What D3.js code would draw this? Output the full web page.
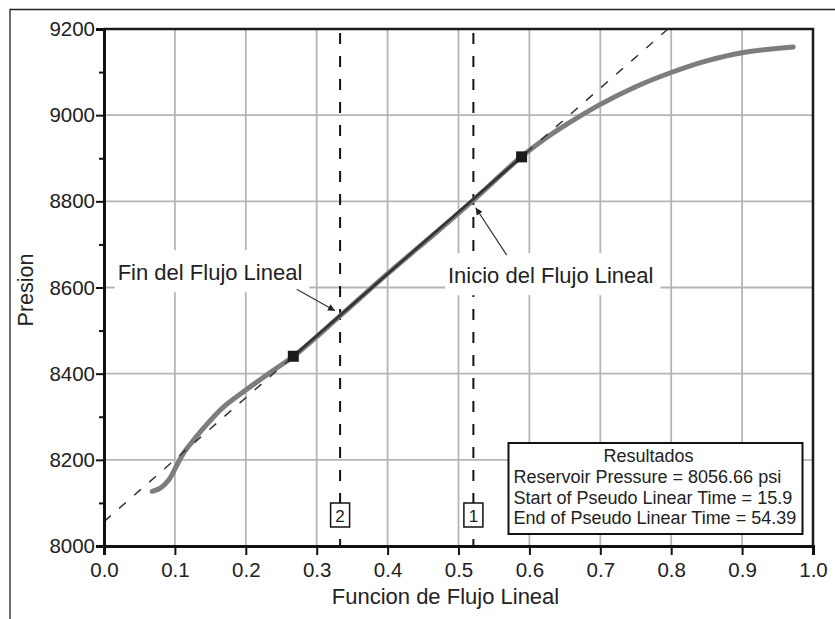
<!DOCTYPE html>
<html>
<head>
<meta charset="utf-8">
<script src="https://cdn.jsdelivr.net/npm/d3@7"></script>
<style>
  body { margin: 0; background: #fff; }
  svg { display: block; font-family: "Liberation Sans", Arial, sans-serif; }
</style>
</head>
<body>
<svg width="835" height="619"></svg>
<script>
// data
const curveX = [0.068, 0.080, 0.092, 0.102, 0.112, 0.125, 0.140, 0.168, 0.200, 0.239, 0.267, 0.333, 0.400, 0.470, 0.521, 0.589, 0.620, 0.653, 0.700, 0.750, 0.800, 0.850, 0.900, 0.972];
const curveP = [8127, 8135, 8155, 8185, 8215, 8243, 8273, 8322, 8362, 8408, 8440, 8534, 8632, 8730, 8803, 8904, 8943, 8979, 9025, 9066, 9099, 9126, 9145, 9158];
const fitIntercept = 8056.66;
const fitSlope = 1437.3;
const markerX = [0.267, 0.589];
const lineX = [0.521, 0.333];
const lineLabels = ["1", "2"];
const xTicks = [0, 0.1, 0.2, 0.3, 0.4, 0.5, 0.6, 0.7, 0.8, 0.9, 1.0];
const yTicks = [8000, 8200, 8400, 8600, 8800, 9000, 9200];
const resultLines = ["Reservoir Pressure = 8056.66 psi", "Start of Pseudo Linear Time = 15.9", "End of Pseudo Linear Time = 54.39"];
const notes = [
  {text: "Fin del Flujo Lineal", x: 0.0193, p: 8617, from: [0.2718, 8596], to: [0.3258, 8546]},
  {text: "Inicio del Flujo Lineal", x: 0.4852, p: 8610, from: [0.568, 8675], to: [0.5243, 8785]}
];

// set the dimensions and margins of the graph
const margin = {top: 29, right: 22, bottom: 73, left: 104},
  width = 835 - margin.left - margin.right,
  height = 619 - margin.top - margin.bottom;

const root = d3.select("svg");

// outer frame (cropped page)
root.append("path")
  .attr("d", "M10,619 V9.5 H835")
  .attr("fill", "none").attr("stroke", "#222").attr("stroke-width", 1.3);

const svg = root.append("g")
  .attr("transform", `translate(${margin.left}, ${margin.top})`);

const x = d3.scaleLinear().domain([0, 1]).range([0, width]);
const y = d3.scaleLinear().domain([8000, 9200]).range([height, 0]);

// grid
svg.append("g").selectAll("line").data(xTicks.slice(1, -1)).join("line")
  .attr("x1", d => x(d)).attr("x2", d => x(d))
  .attr("y1", 0).attr("y2", height)
  .attr("stroke", "#b5b5b5").attr("stroke-width", 1.8);
svg.append("g").selectAll("line").data(yTicks.slice(1, -1)).join("line")
  .attr("y1", d => y(d)).attr("y2", d => y(d))
  .attr("x1", 0).attr("x2", width)
  .attr("stroke", "#b5b5b5").attr("stroke-width", 1.8);

// vertical dashed lines
svg.append("g").selectAll("line").data(lineX).join("line")
  .attr("x1", d => x(d)).attr("x2", d => x(d))
  .attr("y1", 4).attr("y2", height)
  .attr("stroke", "#111").attr("stroke-width", 2)
  .attr("stroke-dasharray", "11,12");

// annotation text with white background
const noteG = svg.append("g");
notes.forEach(n => {
  const g = noteG.append("g");
  const t = g.append("text")
    .attr("x", x(n.x)).attr("y", y(n.p))
    .attr("font-size", 22).attr("fill", "#222")
    .text(n.text);
  const bb = t.node().getBBox();
  g.insert("rect", "text")
    .attr("x", bb.x - 3).attr("y", y(n.p) - 30)
    .attr("width", bb.width + 10).attr("height", 42)
    .attr("fill", "#fff");
});

// data curve
const line = d3.line().x(d => x(d[0])).y(d => y(d[1])).curve(d3.curveCatmullRom.alpha(0.5));
const pts = curveX.map((v, i) => [v, curveP[i]]);
svg.append("path")
  .datum(pts)
  .attr("d", line)
  .attr("fill", "none").attr("stroke", "#7d7d7d")
  .attr("stroke-width", 5).attr("stroke-linecap", "round");

// fit line: solid between markers, dashed over full range
const fit = v => fitIntercept + fitSlope * v;
svg.append("line")
  .attr("x1", x(markerX[0])).attr("y1", y(fit(markerX[0])))
  .attr("x2", x(markerX[1])).attr("y2", y(fit(markerX[1])))
  .attr("stroke", "#333").attr("stroke-width", 2.5);
const vTop = (9200 - fitIntercept) / fitSlope;
svg.append("line")
  .attr("x1", x(0)).attr("y1", y(fit(0)))
  .attr("x2", x(vTop)).attr("y2", y(9200))
  .attr("stroke", "#333").attr("stroke-width", 1.5)
  .attr("stroke-dasharray", "9,11");

// markers
svg.selectAll("rect.marker").data(markerX).join("rect")
  .attr("class", "marker")
  .attr("x", d => x(d) - 5.5).attr("y", d => y(fit(d)) - 5.5)
  .attr("width", 11).attr("height", 11)
  .attr("fill", "#1a1a1a");

// arrows
root.append("defs").append("marker")
  .attr("id", "ah").attr("viewBox", "0 0 10 10")
  .attr("refX", 10).attr("refY", 5)
  .attr("markerWidth", 9).attr("markerHeight", 7)
  .attr("markerUnits", "userSpaceOnUse")
  .attr("orient", "auto")
  .append("path").attr("d", "M0,0 L10,5 L0,10 z").attr("fill", "#222");
svg.append("g").selectAll("line").data(notes).join("line")
  .attr("x1", d => x(d.from[0])).attr("y1", d => y(d.from[1]))
  .attr("x2", d => x(d.to[0])).attr("y2", d => y(d.to[1]))
  .attr("stroke", "#333").attr("stroke-width", 1.2)
  .attr("marker-end", "url(#ah)");

// boxed line numbers
const nb = svg.append("g").selectAll("g").data(lineX).join("g")
  .attr("transform", d => `translate(${x(d)}, ${height - 31})`);
nb.append("rect")
  .attr("x", -9.5).attr("y", -12).attr("width", 19).attr("height", 24)
  .attr("fill", "#fff").attr("stroke", "#111").attr("stroke-width", 1.5);
nb.append("text")
  .attr("text-anchor", "middle").attr("y", 6.5)
  .attr("font-size", 17).attr("fill", "#222")
  .text((d, i) => lineLabels[i]);

// results box
const box = svg.append("g").attr("transform", "translate(404.5, 414)");
box.append("rect")
  .attr("width", 294).attr("height", 91)
  .attr("fill", "#fff").attr("stroke", "#111").attr("stroke-width", 2);
box.append("text")
  .attr("x", 140).attr("y", 18.5).attr("text-anchor", "middle")
  .attr("font-size", 18).attr("fill", "#222")
  .text("Resultados");
box.selectAll("text.r").data(resultLines).join("text")
  .attr("class", "r")
  .attr("x", 5).attr("y", (d, i) => 40 + i * 20.6)
  .attr("font-size", 18).attr("fill", "#222")
  .text(d => d);

// top and right border
svg.append("path")
  .attr("d", `M0,0 H${width} V${height}`)
  .attr("fill", "none").attr("stroke", "#1a1a1a").attr("stroke-width", 2.5);

// Add X axis
const xAxis = svg.append("g")
  .attr("transform", `translate(0, ${height})`)
  .call(d3.axisBottom(x).tickValues(d3.range(0.05, 1, 0.1)).tickSize(6).tickFormat(""));
xAxis.call(d3.axisBottom(x).tickValues(xTicks).tickSize(9).tickPadding(7).tickFormat(d3.format(".1f")));
xAxis.selectAll("text").attr("font-size", 20.5).attr("fill", "#222").attr("font-family", null);

// Y axis
const yAxis = svg.append("g");
yAxis.append("g")
  .call(d3.axisLeft(y).tickValues(d3.range(8100, 9200, 200)).tickSize(5).tickFormat(""));
yAxis.append("g")
  .call(d3.axisLeft(y).tickValues(yTicks).tickSize(8).tickPadding(1).tickFormat(d3.format("d")));
yAxis.selectAll("text").attr("font-size", 20.5).attr("fill", "#222").attr("font-family", null);

svg.selectAll(".domain").attr("stroke", "#111").attr("stroke-width", 3);
svg.selectAll(".tick line").attr("stroke", "#111").attr("stroke-width", 2);

// axis titles
root.append("text")
  .attr("x", 445.5).attr("y", 604)
  .attr("text-anchor", "middle").attr("font-size", 22).attr("fill", "#222")
  .text("Funcion de Flujo Lineal");
root.append("text")
  .attr("transform", "translate(33, 290) rotate(-90)")
  .attr("text-anchor", "middle").attr("font-size", 21.5).attr("fill", "#222")
  .text("Presion");
</script>
</body>
</html>
